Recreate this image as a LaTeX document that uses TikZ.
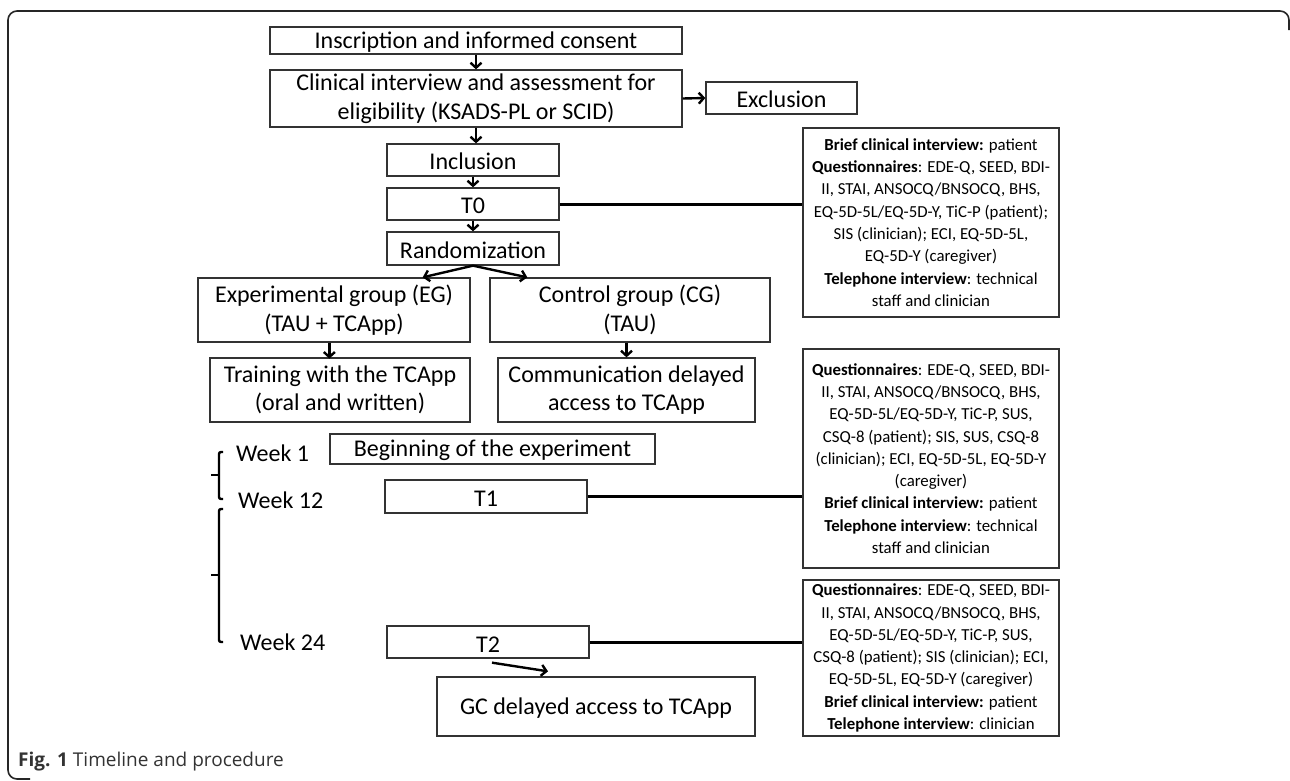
\documentclass[tikz,border=0pt]{standalone}
\usepackage{fontspec}
\setmainfont{Carlito}
\newfontfamily\capfont{Open Sans}
\usepackage{tikz}
\usetikzlibrary{arrows.meta, positioning, calc}

\tikzset{
  box/.style={draw=black!80, line width=1.3pt, inner sep=0pt, align=center,
    font=\fontsize{24}{28.5}\selectfont,
    execute at begin node={\rule{0pt}{20pt}}},
  wh/.style 2 args={minimum width=#1, minimum height=#2},
  infobox/.style={draw=black!80, line width=1.3pt, inner sep=0pt, align=center,
    minimum width=256, font=\fontsize{16.8}{22.3}\selectfont},
  arr/.style={line width=2.4pt, -{Straight Barb[length=5pt,width=11pt]}},
  link/.style={line width=3pt},
  weeklabel/.style={font=\fontsize{24}{28}\selectfont, inner sep=0pt},
  brace/.style={line width=2.4pt, rounded corners=2pt}
}

\begin{document}
\begin{tikzpicture}[x=1pt, y=-1pt]
\useasboundingbox (0,0) rectangle (1290,780);

% frame and caption
\draw[line width=1.6pt, black!85, rounded corners=9pt]
  (1289,30) -- (1289,11) -- (8,11) -- (8,779) -- (30,779);
\node[anchor=west, inner sep=0pt, font=\capfont\fontsize{19}{22}\selectfont, text=black!80]
  (caption) at (18,762) {\textbf{Fig. 1} Timeline and procedure};

% main flow
\node[box, wh={412}{27}] (insc) at (476,40.5) {Inscription and informed consent};
\node[box, wh={412}{57}] (clin) at (476,98.5) {Clinical interview and assessment for\\eligibility (KSADS-PL or SCID)};
\node[box, wh={151}{32}] (excl) at (781.5,98) {Exclusion};
\node[box, wh={172}{32}] (incl) at (473,160) {Inclusion};
\node[box, wh={172}{32}] (tzero) at (473,204) {T0};
\node[box, wh={172}{33}] (rand) at (473,248.5) {Randomization};

% groups
\node[box, wh={272}{64}] (eg) at (334,310) {Experimental group (EG)\\(TAU + TCApp)};
\node[box, wh={280}{64}] (cg) at (630,310) {Control group (CG)\\(TAU)};
\node[box, wh={260}{64}] (train) at (340,390) {Training with the TCApp\\(oral and written)};
\node[box, wh={257}{64}] (comm) at (626.5,390) {Communication delayed\\access to TCApp};

% timeline
\node[box, wh={325}{30}] (begin) at (492.5,449) {Beginning of the experiment};
\node[box, wh={202}{33}] (tone) at (486,496.5) {T1};
\node[box, wh={202}{32}] (ttwo) at (488,642) {T2};
\node[box, wh={318}{59}] (gc) at (596,706.5) {GC delayed access to TCApp};

\node[weeklabel, anchor=west] (wone) at (236,453) {Week 1};
\node[weeklabel, anchor=west] (wtwelve) at (238,500) {Week 12};
\node[weeklabel, anchor=west] (wtwentyfour) at (240,642) {Week 24};

% assessment boxes
\node[infobox, minimum height=189] (infozero) at (931,222.5) {%
\textbf{Brief clinical interview:} patient\\
\textbf{Questionnaires}: EDE-Q, SEED, BDI-\\
II, STAI, ANSOCQ/BNSOCQ, BHS,\\
EQ-5D-5L/EQ-5D-Y, TiC-P (patient);\\
SIS (clinician); ECI, EQ-5D-5L,\\
EQ-5D-Y (caregiver)\\
\textbf{Telephone interview}: technical\\
staff and clinician};
\node[infobox, minimum height=219] (infoone) at (931,458.5) {%
\textbf{Questionnaires}: EDE-Q, SEED, BDI-\\
II, STAI, ANSOCQ/BNSOCQ, BHS,\\
EQ-5D-5L/EQ-5D-Y, TiC-P, SUS,\\
CSQ-8 (patient); SIS, SUS, CSQ-8\\
(clinician); ECI, EQ-5D-5L, EQ-5D-Y\\
(caregiver)\\
\textbf{Brief clinical interview:} patient\\
\textbf{Telephone interview}: technical\\
staff and clinician};
\node[infobox, minimum height=156] (infotwo) at (931,658) {%
\textbf{Questionnaires}: EDE-Q, SEED, BDI-\\
II, STAI, ANSOCQ/BNSOCQ, BHS,\\
EQ-5D-5L/EQ-5D-Y, TiC-P, SUS,\\
CSQ-8 (patient); SIS (clinician); ECI,\\
EQ-5D-5L, EQ-5D-Y (caregiver)\\
\textbf{Brief clinical interview:} patient\\
\textbf{Telephone interview}: clinician};

% arrows
\draw[arr] (insc.south) -- (clin.north);
\draw[arr] (clin.east) -- (excl.west);
\draw[arr] (clin.south) -- (clin.south |- incl.north);
\draw[arr] (incl.south) -- (tzero.north);
\draw[arr] (tzero.south) -- (rand.north);
\draw[arr] (rand.south) -- ($(eg.north east)+(-48,0)$);
\draw[arr] (rand.south) -- ($(cg.north west)+(38,0)$);
\draw[arr] ($(eg.south west)+(132,0)$) -- ($(eg.south west)+(132,16)$);
\draw[arr] (comm.north |- cg.south) -- (comm.north);
\draw[arr] ($(ttwo.south)+(4,4)$) -- ($(gc.north)+(-48,-5)$);

% links to assessments
\draw[link] (tzero.east) -- (tzero.east -| infozero.west);
\draw[link] (tone.east) -- (tone.east -| infoone.west);
\draw[link] (ttwo.east) -- (ttwo.east -| infotwo.west);

% braces
\draw[brace] (223,452) -- (219,452) -- (219,499) -- (223,499);
\draw[line width=2.4pt] (219,475) -- (211,475);
\draw[brace] (223,509) -- (219,509) -- (219,642) -- (223,642);
\draw[line width=2.4pt] (219,575) -- (211,575);
\end{tikzpicture}
\end{document}
